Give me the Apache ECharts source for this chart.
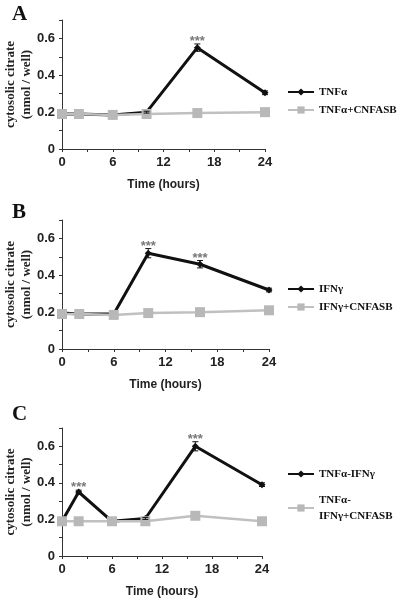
<!DOCTYPE html>
<html><head><meta charset="utf-8">
<script src="https://cdn.jsdelivr.net/npm/echarts@6/dist/echarts.min.js"></script>
<style>html,body{margin:0;padding:0;background:#fff}#c{width:400px;height:600px}</style>
</head><body><div id="c"></div>
<script>
const times = [0, 2, 6, 10, 16, 24];
const xTicks = [0, 6, 12, 18, 24];
const yTicks = [0, 0.2, 0.4, 0.6];
const panelLetters = ['A', 'B', 'C'];
const yTitle = 'cytosolic citrate\n(nmol / well)';
const blackNames = ['TNFα', 'IFNγ', 'TNFα-IFNγ'];
const grayNames = ['TNFα+CNFASB', 'IFNγ+CNFASB', 'TNFα-IFNγ+CNFASB'];
const aBlack = [0.19, 0.19, 0.185, 0.20, 0.55, 0.305];
const aGray = [0.19, 0.19, 0.185, 0.19, 0.195, 0.20];
const aErr = [0, 0, 0, 0.005, 0.02, 0.01];
const aSig = [16];
const bBlack = [0.195, 0.19, 0.19, 0.52, 0.46, 0.32];
const bGray = [0.19, 0.19, 0.185, 0.195, 0.20, 0.21];
const bErr = [0, 0, 0, 0.025, 0.02, 0.01];
const bSig = [10, 16];
const cBlack = [0.19, 0.35, 0.19, 0.205, 0.60, 0.39];
const cGray = [0.19, 0.19, 0.19, 0.19, 0.22, 0.19];
const cErr = [0, 0.01, 0, 0.005, 0.025, 0.01];
const cSig = [2, 16];

const panels = [
  {black: aBlack, gray: aGray, err: aErr, sig: aSig},
  {black: bBlack, gray: bGray, err: bErr, sig: bSig},
  {black: cBlack, gray: cGray, err: cErr, sig: cSig}
];

const gridPos = [
  {left: 62, top: 20, width: 203, height: 129},
  {left: 62, top: 220, width: 207, height: 129},
  {left: 62, top: 428, width: 200, height: 128}
];
const titleTops = [-1, 197, 399];
const legendTops = [79, 276, 461];
const legendGaps = [2, 2, 10];

const sans = 'Liberation Sans, Arial, sans-serif';
const serif = 'Liberation Serif, Times New Roman, serif';

function errSeries(idx, vals, errs, sig) {
  return {
    type: 'custom', xAxisIndex: idx, yAxisIndex: idx, z: 5, silent: true,
    encode: {x: 0, y: [1, 2]},
    data: times.map((t, i) => [t, vals[i] - errs[i], vals[i] + errs[i], sig.includes(t) ? 1 : 0]),
    renderItem(params, api) {
      const x = api.value(0), lo = api.value(1), hi = api.value(2), s = api.value(3);
      const p1 = api.coord([x, lo]), p2 = api.coord([x, hi]);
      const children = [];
      const st = {stroke: '#111', lineWidth: 1};
      if (hi > lo) {
        children.push({type: 'line', shape: {x1: p1[0], y1: p1[1], x2: p2[0], y2: p2[1]}, style: st});
        children.push({type: 'line', shape: {x1: p1[0] - 3, y1: p1[1], x2: p1[0] + 3, y2: p1[1]}, style: st});
        children.push({type: 'line', shape: {x1: p2[0] - 3, y1: p2[1], x2: p2[0] + 3, y2: p2[1]}, style: st});
      }
      if (s) {
        children.push({type: 'text', x: p2[0], y: p2[1] + 4,
          style: {text: '***', align: 'center', verticalAlign: 'bottom', fill: '#777',
                  font: 'bold 13px ' + sans}});
      }
      return {type: 'group', children};
    }
  };
}

const option = {
  backgroundColor: '#fff',
  animation: false,
  title: panelLetters.map((l, i) => ({
    text: l, left: 7, top: titleTops[i],
    textStyle: {fontFamily: serif, fontWeight: 'bold', fontSize: 21, color: '#111'}
  })),
  graphic: gridPos.map(g => ({
    type: 'text', x: 18.5, y: g.top + g.height / 2, rotation: Math.PI / 2, silent: true,
    style: {text: yTitle, align: 'center', verticalAlign: 'middle', fill: '#222',
            font: 'bold 13px ' + serif, lineHeight: 16}
  })),
  grid: gridPos.map(g => Object.assign({containLabel: false, outerBoundsMode: 'none'}, g)),
  legend: panels.map((p, i) => ({
    orient: 'vertical', left: 282, top: legendTops[i],
    itemWidth: 26, itemHeight: 9, itemGap: legendGaps[i],
    data: [blackNames[i], grayNames[i]],
    formatter: n => n === 'TNFα-IFNγ+CNFASB' ? 'TNFα-\nIFNγ+CNFASB' : n,
    textStyle: {fontFamily: serif, fontWeight: 'bold', fontSize: 11, color: '#111', lineHeight: 16}
  })),
  xAxis: panels.map((p, i) => ({
    type: 'value', gridIndex: i, min: 0, max: 24, interval: 3,
    splitLine: {show: false},
    axisLine: {lineStyle: {color: '#333', width: 1}},
    axisTick: {show: true, length: 3, lineStyle: {color: '#333'}},
    axisLabel: {formatter: v => xTicks.includes(v) ? String(v) : '', fontFamily: sans, fontWeight: 'bold',
                fontSize: 13, color: '#222', margin: 7},
    name: 'Time (hours)', nameLocation: 'middle', nameGap: 30,
    nameTextStyle: {fontFamily: sans, fontWeight: 'bold', fontSize: 12, color: '#222'}
  })),
  yAxis: panels.map((p, i) => ({
    type: 'value', gridIndex: i, min: 0, max: 0.7, interval: 0.1,
    splitLine: {show: false},
    axisLine: {show: true, lineStyle: {color: '#333', width: 1}},
    axisTick: {show: true, length: 3, lineStyle: {color: '#333'}},
    axisLabel: {formatter: v => {
        const t = yTicks.find(y => Math.abs(y - v) < 1e-6);
        return t === undefined ? '' : String(t);
      }, fontFamily: sans, fontWeight: 'bold', fontSize: 13, color: '#222', margin: 7}
  })),
  series: panels.flatMap((p, i) => [
    {
      type: 'line', name: blackNames[i], xAxisIndex: i, yAxisIndex: i, z: 3,
      data: times.map((t, j) => [t, p.black[j]]),
      symbol: 'diamond', symbolSize: 7, showSymbol: true,
      lineStyle: {color: '#111', width: 3}, itemStyle: {color: '#111'}
    },
    errSeries(i, p.black, p.err, p.sig),
    {
      type: 'line', name: grayNames[i], xAxisIndex: i, yAxisIndex: i, z: 4,
      data: times.map((t, j) => [t, p.gray[j]]),
      symbol: 'rect', symbolSize: 10, showSymbol: true,
      lineStyle: {color: '#c0c0c0', width: 2.5}, itemStyle: {color: '#b8b8b8'}
    }
  ])
};
echarts.init(document.getElementById('c'), null, {renderer: 'canvas'}).setOption(option);
</script></body></html>
